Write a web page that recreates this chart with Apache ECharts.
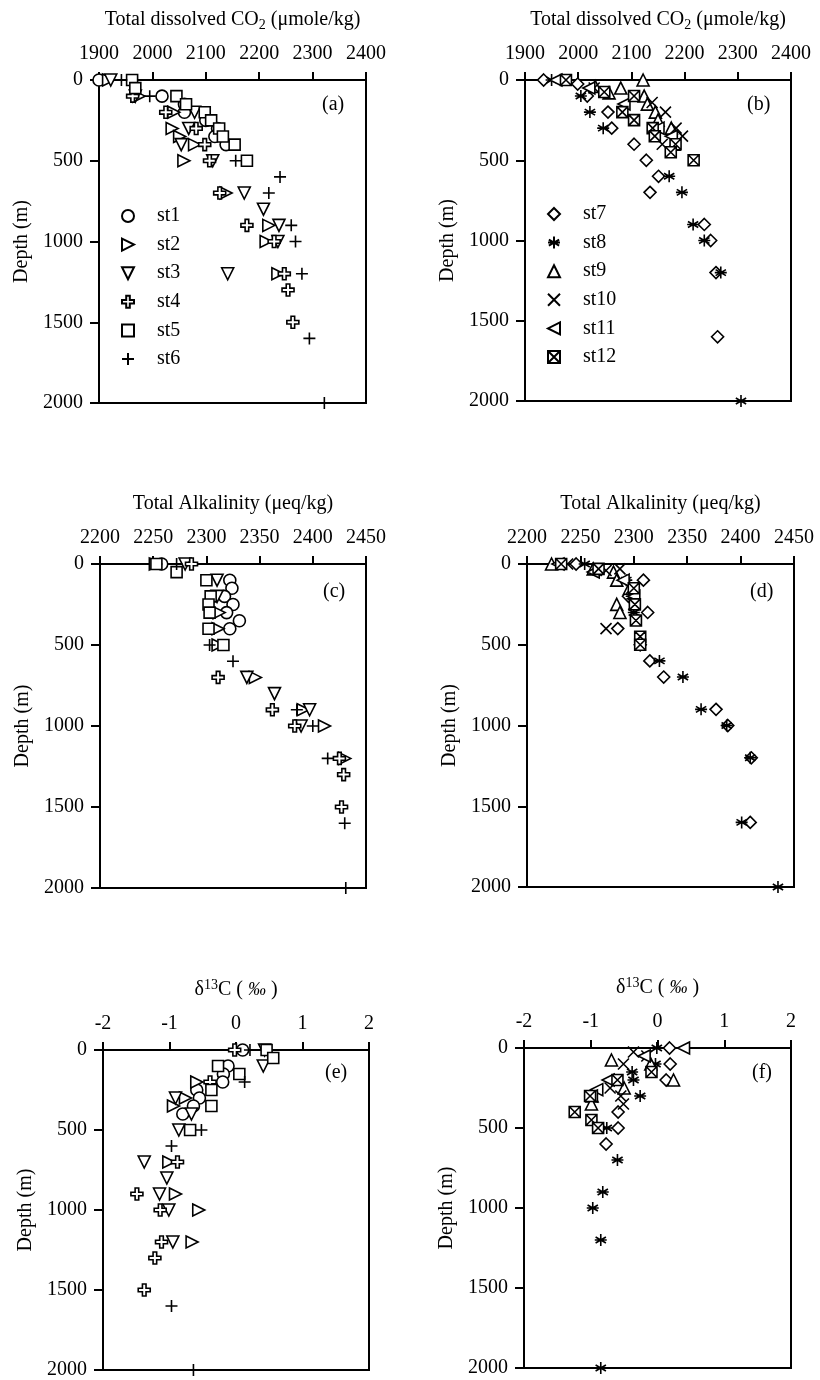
<!DOCTYPE html>
<html><head><meta charset="utf-8">
<script src="https://cdn.jsdelivr.net/npm/echarts@6/dist/echarts.min.js"></script>
<style>html,body{margin:0;padding:0;background:#fff}#c{width:820px;height:1380px}</style>
</head><body><div id="c"></div>
<script>
// ---------- DATA: [value, depth(m)] ----------
// Panel (a) Total dissolved CO2 (umole/kg), stations 1-6
const a_st1 = [[1900,0],[2018,100],[2060,150],[2060,200],[2100,250],[2122,300],[2117,350],[2138,400]];
const a_st2 = [[1918,0],[1975,100],[2040,200],[2037,300],[2051,350],[2079,400],[2059,500],[2138,700],[2218,900],[2213,1000],[2235,1200]];
const a_st3 = [[1922,0],[1968,100],[2079,200],[2068,300],[2054,400],[2113,500],[2172,700],[2208,800],[2237,900],[2235,1000],[2141,1200]];
const a_st4 = [[1963,100],[2025,200],[2082,300],[2098,400],[2107,500],[2126,700],[2177,900],[2228,1000],[2247,1200],[2254,1300],[2263,1500]];
const a_st5 = [[1962,0],[1968,50],[2045,100],[2063,150],[2098,200],[2110,250],[2125,300],[2132,350],[2154,400],[2177,500]];
const a_st6 = [[1942,0],[1995,100],[2156,500],[2239,600],[2218,700],[2260,900],[2268,1000],[2280,1200],[2294,1600],[2322,2000]];
// Panel (b) Total dissolved CO2, stations 7-12
const b_st7 = [[1935,0],[1999,25],[2017,100],[2056,200],[2063,300],[2105,400],[2128,500],[2151,600],[2135,700],[2237,900],[2249,1000],[2259,1200],[2262,1600]];
const b_st8 = [[1950,0],[2005,100],[2022,200],[2047,300],[2171,600],[2195,700],[2216,900],[2237,1000],[2268,1200],[2306,2000]];
const b_st9 = [[2122,0],[2032,40],[2080,50],[2058,80],[2124,100],[2130,150],[2145,200],[2150,250],[2175,300],[2180,400]];
const b_st10 = [[2030,50],[2139,140],[2164,200],[2184,300],[2196,350],[2158,400]];
const b_st11 = [[1958,0],[2020,50],[2086,150],[2150,300],[2175,350]];
const b_st12 = [[1977,0],[2049,75],[2105,100],[2083,200],[2105,250],[2140,300],[2144,350],[2183,400],[2174,450],[2217,500]];
// Panel (c) Total Alkalinity (ueq/kg), stations 1-6
const c_st1 = [[2258,0],[2322,100],[2324,150],[2317,200],[2325,250],[2319,300],[2331,350],[2322,400]];
const c_st2 = [[2252,0],[2312,300],[2311,400],[2311,500],[2346,700],[2391,900],[2411,1000],[2430,1200]];
const c_st3 = [[2280,0],[2310,100],[2310,200],[2338,700],[2364,800],[2397,900],[2389,1000]];
const c_st4 = [[2286,0],[2311,700],[2362,900],[2383,1000],[2425,1200],[2429,1300],[2427,1500]];
const c_st5 = [[2253,0],[2272,50],[2300,100],[2304,200],[2302,250],[2303,300],[2302,400],[2316,500]];
const c_st6 = [[2272,0],[2303,500],[2325,600],[2385,900],[2400,1000],[2414,1200],[2430,1600],[2431,2000]];
// Panel (d) Total Alkalinity, stations 7-12
const d_st7 = [[2246,0],[2309,100],[2295,200],[2313,300],[2285,400],[2306,500],[2315,600],[2328,700],[2377,900],[2388,1000],[2410,1200],[2409,1600]];
const d_st8 = [[2254,0],[2293,100],[2298,200],[2300,300],[2324,600],[2346,700],[2363,900],[2387,1000],[2409,1200],[2401,1600],[2435,2000]];
const d_st9 = [[2223,0],[2262,30],[2281,50],[2284,100],[2296,150],[2284,250],[2287,300]];
const d_st10 = [[2238,0],[2274,40],[2287,30],[2298,150],[2300,250],[2274,400]];
const d_st11 = [[2229,0],[2262,50],[2290,100],[2300,200]];
const d_st12 = [[2232,0],[2267,30],[2300,150],[2301,250],[2302,350],[2306,450],[2306,500]];
// Panel (e) delta13C (permil), stations 1-6
const e_st1 = [[0.1,0],[-0.12,100],[-0.19,150],[-0.2,200],[-0.59,250],[-0.55,300],[-0.64,350],[-0.8,400]];
const e_st2 = [[-0.59,200],[-0.76,300],[-0.94,350],[-1.01,700],[-0.91,900],[-0.56,1000],[-0.66,1200]];
const e_st3 = [[0.43,0],[0.41,100],[-0.91,300],[-0.67,400],[-0.86,500],[-1.38,700],[-1.04,800],[-1.15,900],[-1.01,1000],[-0.95,1200]];
const e_st4 = [[-0.02,0],[-0.39,200],[-0.88,700],[-1.49,900],[-1.14,1000],[-1.12,1200],[-1.22,1300],[-1.38,1500]];
const e_st5 = [[0.46,0],[0.56,50],[-0.27,100],[0.05,150],[-0.37,250],[-0.37,350],[-0.69,500]];
const e_st6 = [[0.21,0],[0.13,200],[-0.52,500],[-0.97,600],[-0.97,1600],[-0.64,2000]];
// Panel (f) delta13C, stations 7-12
const f_st7 = [[0.18,0],[0.19,100],[0.13,200],[-0.59,400],[-0.59,500],[-0.77,600]];
const f_st8 = [[-0.01,0],[-0.03,100],[-0.38,150],[-0.36,200],[-0.26,300],[-0.76,500],[-0.6,700],[-0.82,900],[-0.97,1000],[-0.85,1200],[-0.85,2000]];
const f_st9 = [[-0.69,75],[-0.1,100],[0.24,200],[-0.5,250],[-0.98,300],[-0.99,350]];
const f_st10 = [[-0.36,25],[-0.16,50],[-0.51,100],[-0.71,250],[-0.55,300],[-0.51,350]];
const f_st11 = [[0.39,0],[-0.2,50],[-0.74,200],[-0.91,260],[-0.99,300]];
const f_st12 = [[-0.09,150],[-0.6,200],[-1.01,300],[-1.24,400],[-0.99,450],[-0.89,500]];

// tick settings
const xRangeCO2 = [1900, 2400, 100];
const xRangeTA = [2200, 2450, 50];
const xRangeC13 = [-2, 2, 1];
const depthRange = [0, 2000, 500];
const legendA = ['st1','st2','st3','st4','st5','st6'];
const legendB = ['st7','st8','st9','st10','st11','st12'];

// ---------- STYLE ----------
const FONT = 'Liberation Serif';
const SYM = {
  st1: 'circle',
  st2: 'path://M0,0L10,5L0,10Z',
  st3: 'path://M0,0L10,0L5,10Z',
  st4: 'path://M3.5,0L6.5,0L6.5,3.5L10,3.5L10,6.5L6.5,6.5L6.5,10L3.5,10L3.5,6.5L0,6.5L0,3.5L3.5,3.5Z',
  st5: 'path://M0,0L10,0L10,10L0,10Z',
  st6: 'path://M5,0L5,10M0,5L10,5',
  st7: 'path://M5,0L10,5L5,10L0,5Z',
  st8: 'path://M5,0L5,10M0.7,2.5L9.3,7.5M0.7,7.5L9.3,2.5M0,5L10,5',
  st9: 'path://M5,0L10,10L0,10Z',
  st10: 'path://M0,0L10,10M10,0L0,10',
  st11: 'path://M10,0L0,5L10,10Z',
  st12: 'path://M0,0L10,0L10,10L0,10ZM0,0L10,10M10,0L0,10'
};
const LINE_ONLY = {st6:true, st8:true, st10:true};
const SIZE = {st1:12, st2:12, st3:12, st4:12, st5:11, st6:12, st7:12, st8:12, st9:12, st10:11, st11:12, st12:11};

const grids = [
  {left: 99, top: 80, width: 267, height: 323},
  {left: 525, top: 80, width: 266, height: 321},
  {left: 100, top: 564, width: 266, height: 324},
  {left: 527, top: 564, width: 267, height: 323},
  {left: 103, top: 1050, width: 266, height: 320},
  {left: 524, top: 1048, width: 267, height: 320}
];

const nameCO2 = '{t|Total dissolved CO}{s|2}{t| (μmole/kg)}';
const nameTA = '{t|Total Alkalinity (μeq/kg)}';
const nameC13 = '{t|δ}{p|13}{t|C ( }{i|‰}{t| )}';
const richName = {
  t: {fontFamily: FONT, fontSize: 20, lineHeight: 24, color: '#000'},
  s: {fontFamily: FONT, fontSize: 14, lineHeight: 12, verticalAlign: 'bottom', color: '#000'},
  p: {fontFamily: FONT, fontSize: 14, lineHeight: 12, verticalAlign: 'top', color: '#000'},
  i: {fontFamily: FONT, fontSize: 18, lineHeight: 24, fontStyle: 'italic', color: '#000'}
};
const plain = v => String(v);

function xAxis(idx, range, name) {
  return {
    gridIndex: idx, type: 'value', position: 'top',
    min: range[0], max: range[1], interval: range[2],
    name: name, nameLocation: 'middle', nameGap: 48,
    nameTextStyle: {rich: richName},
    axisLine: {show: true, onZero: false, lineStyle: {color: '#000', width: 2}},
    axisTick: {show: true, inside: false, length: 8, lineStyle: {color: '#000', width: 2}},
    axisLabel: {show: true, margin: 16, formatter: plain, fontFamily: FONT, fontSize: 20, color: '#000'},
    splitLine: {show: false}
  };
}
function yAxis(idx) {
  return {
    gridIndex: idx, type: 'value', inverse: true,
    min: depthRange[0], max: depthRange[1], interval: depthRange[2],
    name: 'Depth (m)', nameLocation: 'middle', nameGap: 67,
    nameTextStyle: {fontFamily: FONT, fontSize: 20, color: '#000'},
    axisLine: {show: true, onZero: false, lineStyle: {color: '#000', width: 2}},
    axisTick: {show: true, inside: false, length: 9, lineStyle: {color: '#000', width: 2}},
    axisLabel: {show: true, margin: 16, formatter: plain, fontFamily: FONT, fontSize: 20, color: '#000'},
    splitLine: {show: false}
  };
}
function mk(name, data, idx) {
  const line = !!LINE_ONLY[name];
  return {
    type: 'scatter', name: name, data: data,
    xAxisIndex: idx, yAxisIndex: idx,
    symbol: SYM[name], symbolSize: SIZE[name],
    itemStyle: {color: line ? 'rgba(0,0,0,0)' : '#fff', borderColor: '#000', borderWidth: 1.6, opacity: 1},
    emphasis: {disabled: true},
    silent: true
  };
}

const series = [
  mk('st1', a_st1, 0), mk('st2', a_st2, 0), mk('st3', a_st3, 0), mk('st4', a_st4, 0), mk('st5', a_st5, 0), mk('st6', a_st6, 0),
  mk('st7', b_st7, 1), mk('st8', b_st8, 1), mk('st9', b_st9, 1), mk('st10', b_st10, 1), mk('st11', b_st11, 1), mk('st12', b_st12, 1),
  mk('st1', c_st1, 2), mk('st2', c_st2, 2), mk('st3', c_st3, 2), mk('st4', c_st4, 2), mk('st5', c_st5, 2), mk('st6', c_st6, 2),
  mk('st7', d_st7, 3), mk('st8', d_st8, 3), mk('st9', d_st9, 3), mk('st10', d_st10, 3), mk('st11', d_st11, 3), mk('st12', d_st12, 3),
  mk('st1', e_st1, 4), mk('st2', e_st2, 4), mk('st3', e_st3, 4), mk('st4', e_st4, 4), mk('st5', e_st5, 4), mk('st6', e_st6, 4),
  mk('st7', f_st7, 5), mk('st8', f_st8, 5), mk('st9', f_st9, 5), mk('st10', f_st10, 5), mk('st11', f_st11, 5), mk('st12', f_st12, 5)
];

const panelTitle = (txt, left, top) => ({text: txt, left: left, top: top, padding: 0,
  textStyle: {fontFamily: FONT, fontSize: 20, fontWeight: 'normal', color: '#000'}});

const legendCommon = {orient: 'vertical', itemWidth: 48, itemHeight: 12, itemGap: 8.6, padding: 0,
  selectedMode: false, textStyle: {fontFamily: FONT, fontSize: 20, color: '#000'}};

const option = {
  animation: false,
  backgroundColor: '#fff',
  title: [
    panelTitle('(a)', 322, 95), panelTitle('(b)', 747, 95),
    panelTitle('(c)', 323, 582), panelTitle('(d)', 750, 582),
    panelTitle('(e)', 325, 1063), panelTitle('(f)', 752, 1063)
  ],
  legend: [
    Object.assign({data: legendA, left: 121, top: 206}, legendCommon),
    Object.assign({data: legendB, left: 547, top: 204}, legendCommon)
  ],
  grid: grids.map(g => Object.assign({show: true, borderColor: '#000', borderWidth: 2, backgroundColor: 'transparent', containLabel: false}, g)),
  xAxis: [xAxis(0, xRangeCO2, nameCO2), xAxis(1, xRangeCO2, nameCO2), xAxis(2, xRangeTA, nameTA), xAxis(3, xRangeTA, nameTA), xAxis(4, xRangeC13, nameC13), xAxis(5, xRangeC13, nameC13)],
  yAxis: [yAxis(0), yAxis(1), yAxis(2), yAxis(3), yAxis(4), yAxis(5)],
  series: series
};
const chart = echarts.init(document.getElementById('c'), null, {renderer: 'canvas'});
chart.setOption(option);
</script>
</body></html>
